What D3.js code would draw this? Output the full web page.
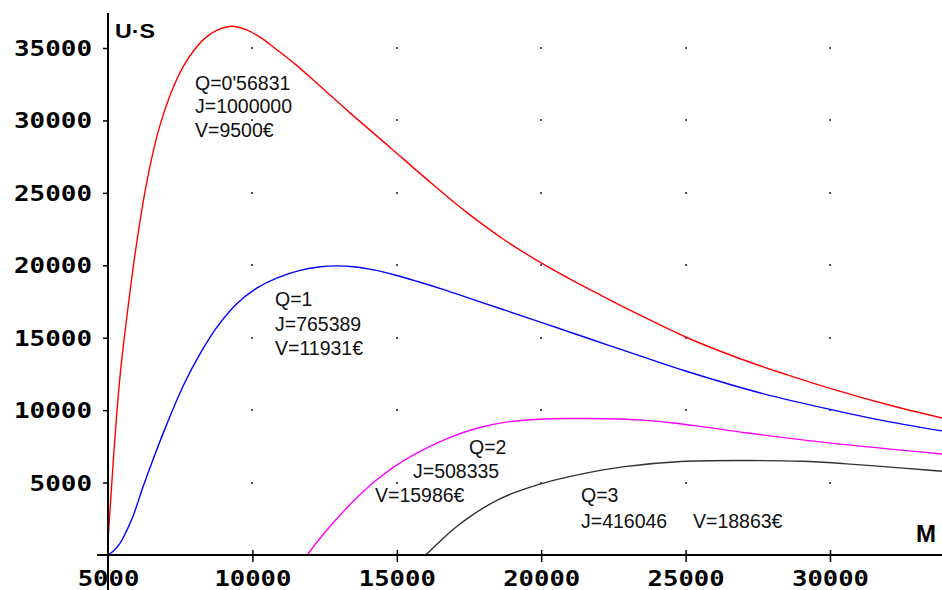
<!DOCTYPE html>
<html>
<head>
<meta charset="utf-8">
<script src="https://cdn.jsdelivr.net/npm/d3@7/dist/d3.min.js"></script>
<style>
  html, body { margin: 0; padding: 0; background: #fff; }
  svg { display: block; }
</style>
</head>
<body>
<svg id="chart" width="942" height="590"></svg>
<script>
// ---- data ----
const xTicks = [5000, 10000, 15000, 20000, 25000, 30000];
const yTicks = [5000, 10000, 15000, 20000, 25000, 30000, 35000];
const xLabel = "M";
const yLabel = "U·S";

const seriesNames = ["Q=0'56831", "Q=1", "Q=2", "Q=3"];
const seriesColors = ["#ff0000", "#0000ff", "#ff00ff", "#333333"];

const redM = [5000, 5100, 5200, 5300, 5400, 5500, 5600, 5770, 5990, 6330, 6760, 7180, 7600, 8000, 8400, 8800, 9300, 9800, 10300, 10800, 11500, 12300, 13380, 14760, 16030, 17420, 18690, 19970, 21000, 22050, 23180, 25000, 26890, 28500, 30000, 32110, 34000];
const redV = [1000, 4000, 7000, 9700, 12000, 13900, 15600, 18300, 21500, 25600, 29400, 31900, 33700, 34900, 35750, 36250, 36500, 36250, 35700, 34950, 33850, 32450, 30520, 28150, 25950, 23650, 21800, 20200, 19050, 17950, 16800, 15050, 13550, 12450, 11500, 10320, 9400];

const blueM = [5000, 5200, 5415, 5650, 5880, 6220, 6570, 7030, 7610, 8190, 8760, 9460, 10150, 10840, 11650, 12300, 12900, 13500, 14200, 14900, 15690, 16600, 17550, 18700, 20000, 21670, 23300, 25000, 27470, 30000, 32110, 34000];
const blueV = [0, 300, 800, 1700, 2750, 4750, 6650, 9000, 11700, 13900, 15700, 17350, 18420, 19120, 19650, 19880, 19960, 19900, 19680, 19350, 18900, 18340, 17700, 16930, 16060, 14930, 13830, 12700, 11250, 10050, 9170, 8530];

const magM = [11900, 12300, 12720, 13440, 14160, 14880, 15610, 16760, 17770, 18780, 19930, 21000, 22300, 23500, 24500, 25500, 27150, 30040, 34000];
const magV = [0, 1050, 2050, 3600, 4950, 6050, 6950, 8050, 8750, 9170, 9370, 9420, 9410, 9310, 9130, 8880, 8420, 7720, 6950];

const blackM = [16000, 16500, 17000, 17500, 18000, 18500, 19000, 19930, 21380, 22820, 24840, 27000, 29030, 30470, 32640, 34000];
const blackV = [0, 950, 1850, 2600, 3250, 3800, 4250, 4880, 5580, 6080, 6450, 6520, 6470, 6310, 5980, 5760];

const noteLines = [
  ["Q=0'56831", "J=1000000", "V=9500€"],
  ["Q=1", "J=765389", "V=11931€"],
  ["Q=2", "J=508335", "V=15986€"],
  ["Q=3", "J=416046", "V=18863€"]
];

// ---- layout ----
const W = 942, H = 590;
const svg = d3.select("#chart");
const x = d3.scaleLinear().domain([5000, 30000]).range([108, 830]);
const y = d3.scaleLinear().domain([0, 35000]).range([555, 48]);

const tickFont = "'DejaVu Sans Mono', monospace";
const noteFont = "'Liberation Sans', Arial, sans-serif";

// grid dots
const gx = xTicks.filter(d => d > 5000);
const dots = [];
gx.forEach(a => yTicks.forEach(b => dots.push([a, b])));
svg.append("g").selectAll("rect").data(dots).join("rect")
  .attr("x", d => Math.round(x(d[0])) - 1)
  .attr("y", d => Math.round(y(d[1])) - 1)
  .attr("width", 2).attr("height", 2)
  .attr("fill", "#555");

// clip for curves
svg.append("clipPath").attr("id", "plot")
  .append("rect").attr("x", 108).attr("y", 0).attr("width", W - 108).attr("height", 556);

const line = d3.line().x(d => x(d[0])).y(d => y(d[1])).curve(d3.curveCatmullRom.alpha(0.5));
const series = [
  d3.zip(redM, redV),
  d3.zip(blueM, blueV),
  d3.zip(magM, magV),
  d3.zip(blackM, blackV)
];
svg.append("g").attr("clip-path", "url(#plot)")
  .selectAll("path").data(series).join("path")
  .attr("d", line)
  .attr("fill", "none")
  .attr("stroke", (d, i) => seriesColors[i])
  .attr("stroke-width", 1.4);

// y axis
const yAxis = d3.axisLeft(y).tickValues(yTicks).tickSize(5).tickPadding(11).tickFormat(d3.format("d"));
const gy = svg.append("g").attr("transform", "translate(108,0)").call(yAxis);
gy.select(".domain").remove();
gy.selectAll(".tick line").attr("stroke", "#000").attr("stroke-width", 1.5);
gy.selectAll(".tick text")
  .attr("font-family", tickFont).attr("font-weight", "bold").attr("font-size", 22)
  .attr("fill", "#000").attr("dy", "0.34em")
  .attr("textLength", function(d) { return String(d).length * 15.6; })
  .attr("lengthAdjust", "spacingAndGlyphs");

// x axis
const xAxis = d3.axisBottom(x).tickValues(xTicks).tickSize(0).tickFormat(d3.format("d"));
const gxA = svg.append("g").attr("transform", "translate(0,555)").call(xAxis);
gxA.select(".domain").remove();
gxA.selectAll(".tick line").attr("y1", -5).attr("y2", 7)
  .attr("stroke", "#000").attr("stroke-width", 1.5)
  .attr("display", d => d === 5000 ? "none" : null);
gxA.selectAll(".tick text")
  .attr("font-family", tickFont).attr("font-weight", "bold").attr("font-size", 22)
  .attr("fill", "#000").attr("y", 31).attr("dy", 0)
  .attr("textLength", function(d) { return String(d).length * 15.4; })
  .attr("lengthAdjust", "spacingAndGlyphs");

// axis lines
svg.append("line").attr("x1", 97).attr("x2", W).attr("y1", 555).attr("y2", 555)
  .attr("stroke", "#000").attr("stroke-width", 2);
svg.append("line").attr("x1", 108).attr("x2", 108).attr("y1", 13).attr("y2", H)
  .attr("stroke", "#000").attr("stroke-width", 2);

// axis titles
svg.append("text").text(yLabel)
  .attr("x", 115).attr("y", 38)
  .attr("font-family", "'Liberation Sans', Arial, sans-serif").attr("font-weight", "bold")
  .attr("font-size", 20).attr("textLength", 40).attr("lengthAdjust", "spacingAndGlyphs")
  .attr("fill", "#000");
svg.append("text").text(xLabel)
  .attr("x", 916).attr("y", 542)
  .attr("font-family", "'Liberation Sans', Arial, sans-serif").attr("font-weight", "bold")
  .attr("font-size", 24).attr("fill", "#000");

// annotations
const notePos = [
  [[195, 90], [195, 113], [195, 137]],
  [[275, 306], [275, 331], [275, 355]],
  [[469, 454], [413, 478], [375, 502]],
  [[581, 502], [581, 528], [693, 528]]
];
const notes = [];
noteLines.forEach((g, i) => g.forEach((t, j) => notes.push({ t, p: notePos[i][j] })));
svg.append("g").selectAll("text").data(notes).join("text")
  .text(d => d.t)
  .attr("x", d => d.p[0]).attr("y", d => d.p[1])
  .attr("font-family", noteFont).attr("font-size", 19.5)
  .attr("fill", "#111");
</script>
</body>
</html>
